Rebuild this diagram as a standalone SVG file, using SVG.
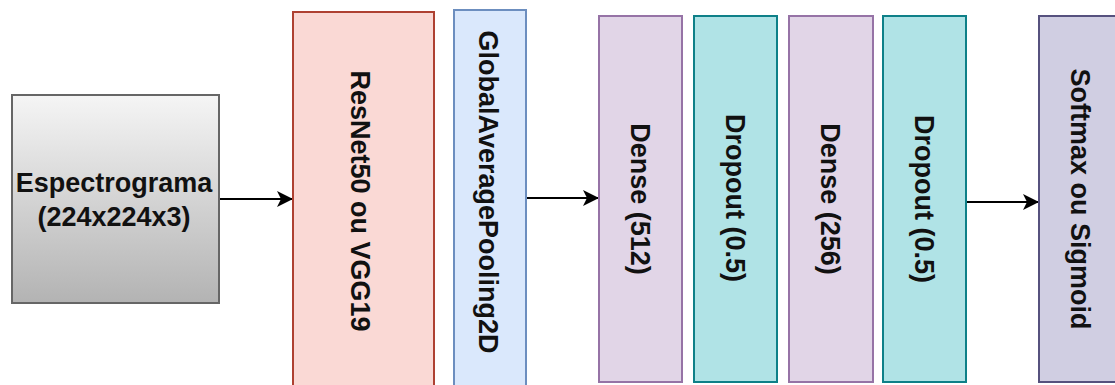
<svg xmlns="http://www.w3.org/2000/svg" width="1115" height="385" viewBox="0 0 1115 385">
<defs>
<linearGradient id="grayGrad" x1="0" y1="0" x2="0" y2="1">
<stop offset="0" stop-color="#f5f5f5"/>
<stop offset="1" stop-color="#b3b3b3"/>
</linearGradient>
<marker id="arrow" markerUnits="userSpaceOnUse" markerWidth="18" markerHeight="16" refX="16" refY="8" orient="auto">
<path d="M0,0 L16,8 L0,16 L4,8 Z" fill="#000"/>
</marker>
<style>
.lbl{font-family:"Liberation Sans",Arial,sans-serif;font-weight:bold;font-size:27px;fill:#111;text-anchor:middle}
.box{stroke-width:2}
.conn{stroke:#000;stroke-width:2;fill:none;marker-end:url(#arrow)}
</style>
</defs>
<rect width="1115" height="385" fill="#fff"/>
<g id="connectors">
<line class="conn" x1="220" y1="199" x2="293" y2="199"/>
<line class="conn" x1="527" y1="198" x2="599" y2="198"/>
<line class="conn" x1="966" y1="202" x2="1039" y2="202"/>
</g>
<g id="node-espectrograma">
<rect class="box" x="12" y="95" width="207" height="208" fill="url(#grayGrad)" stroke="#666"/>
<text class="lbl" x="114" y="192">Espectrograma</text>
<text class="lbl" x="114" y="226">(224x224x3)</text>
</g>
<g id="node-resnet">
<rect class="box" x="293" y="12" width="141" height="380" fill="#fad9d5" stroke="#ae4132"/>
<text class="lbl" transform="translate(351,201) rotate(90)">ResNet50 ou VGG19</text>
</g>
<g id="node-gap">
<rect class="box" x="454" y="10" width="72" height="382" fill="#dae8fc" stroke="#6c8ebf"/>
<text class="lbl" transform="translate(479,192) rotate(90)">GlobalAveragePooling2D</text>
</g>
<g id="node-dense512">
<rect class="box" x="599" y="16" width="83" height="366" fill="#e1d5e7" stroke="#9673a6"/>
<text class="lbl" transform="translate(631,199) rotate(90)">Dense (512)</text>
</g>
<g id="node-dropout1">
<rect class="box" x="694" y="16" width="83" height="366" fill="#b0e3e6" stroke="#0e8088"/>
<text class="lbl" transform="translate(726,198) rotate(90)">Dropout (0.5)</text>
</g>
<g id="node-dense256">
<rect class="box" x="789" y="16" width="84" height="366" fill="#e1d5e7" stroke="#9673a6"/>
<text class="lbl" transform="translate(821,199) rotate(90)">Dense (256)</text>
</g>
<g id="node-dropout2">
<rect class="box" x="883" y="16" width="83" height="366" fill="#b0e3e6" stroke="#0e8088"/>
<text class="lbl" transform="translate(915,199) rotate(90)">Dropout (0.5)</text>
</g>
<g id="node-output">
<rect class="box" x="1039" y="16" width="83" height="366" fill="#d0cee2" stroke="#56517e"/>
<text class="lbl" transform="translate(1071,199) rotate(90)">Softmax ou Sigmoid</text>
</g>
</svg>
